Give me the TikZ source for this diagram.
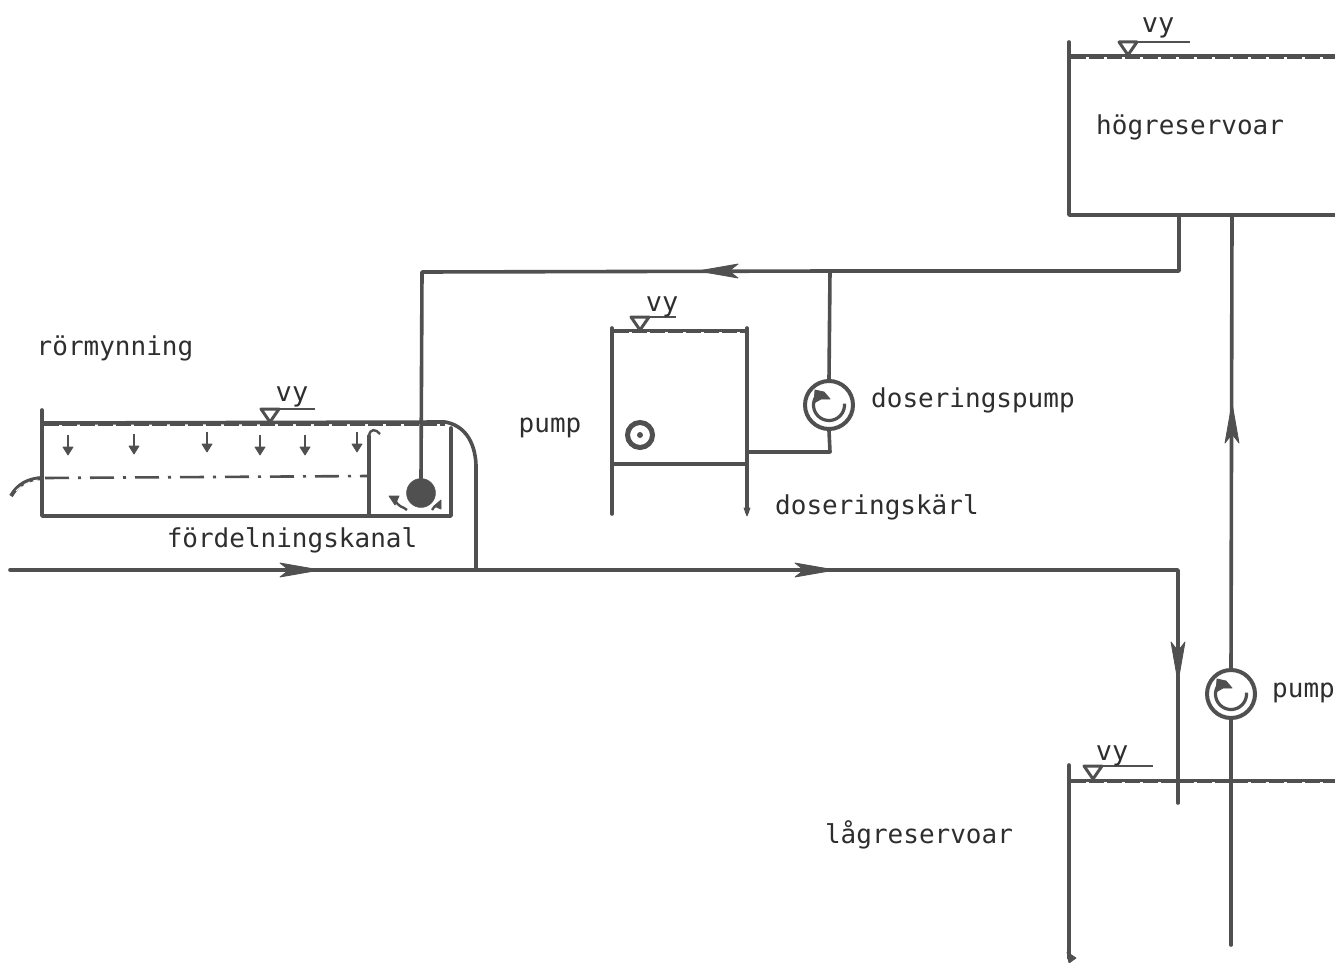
\documentclass[tikz,border=0pt]{standalone}
\usepackage{fontspec}
\setmainfont{DejaVu Sans Mono}
\usetikzlibrary{calc}
\definecolor{ink}{HTML}{505050}
\tikzset{
  x=1pt,y=-1pt,
  pipe/.style={draw=ink,line width=3.6pt,line cap=round,line join=round},
  water/.style={draw=ink,line width=3pt},
  water gaps/.style={draw=ink,line width=2.6pt,dash pattern=on 15pt off 3pt},
  label/.style={inner sep=0pt,text=black!82,font=\fontsize{26}{28}\selectfont},
  vylabel/.style={inner sep=0pt,text=black!82,font=\fontsize{27}{28}\selectfont},
  pumpbody/.style={circle,draw=ink,line width=4pt,minimum size=48pt,inner sep=0pt,fill=white},
  tipfill/.style={fill=ink,draw=ink,line width=.8pt,line join=round},
  pics/flow/.style={code={
    \path[tipfill] (0,0) -- (-40,-7) -- (-31,0) -- (-40,7) -- cycle;
  }},
  pics/smalldown/.style={code={
    \draw[draw=ink,line width=2.4pt] (0,-10) -- (0,4);
    \path[tipfill] (-5,2) -- (5,2) -- (0,10) -- cycle;
  }},
  pics/vymark/.style={code={
    \draw[draw=ink,line width=3pt,line join=round] (0,0) -- (-9,-13) -- (9,-13) -- cycle;
    \draw[draw=ink,line width=2.8pt] (0,-13) -- (#1,-13);
  }},
  pics/rotor/.style={code={
    \draw[draw=ink,line width=3.2pt] plot[smooth,domain=-5:235,samples=25] ({15.5*cos(\x)},{15.5*sin(\x)});
    \path[tipfill] (-15,-2) -- (-14,-15) -- (-5,-13) -- (1,-6) -- (-8,-6) -- cycle;
  }},
}
\begin{document}
\begin{tikzpicture}
\useasboundingbox (0,0) rectangle (1335,963);

% coordinates
\coordinate (hrTop) at (1069,42);
\coordinate (hrBL) at (1069,215);
\coordinate (hrBR) at (1335,215);
\coordinate (hrOut) at (1179,215);
\coordinate (hrCorner) at (1179,271);
\coordinate (dropTop) at (422,272);
\coordinate (branch) at (830,271);
\coordinate (feedEnd) at (748,452);
\coordinate (feedCorner) at (830,452);
\coordinate (mainStart) at (10,570);
\coordinate (mainCorner) at (1178,570);
\coordinate (mainEnd) at (1178,803);
\coordinate (overflowFoot) at (476,570);
\coordinate (riserFoot) at (1231,945);
\coordinate (riserTop) at (1232,215);

% pumps and ball
\node[pumpbody] (dospump) at (829,405) {};
\node[pumpbody] (mainpump) at (1231,694) {};
\node[circle,fill=ink,draw=ink,minimum size=29pt,inner sep=0pt] (ball) at (421,493) {};
\node[circle,draw=ink,line width=5pt,minimum size=25pt,inner sep=0pt] (smallpump) at (640,435) {};

% high reservoir
\draw[pipe] (hrTop) -- (hrBL) -- (hrBR);
\draw[water] (1069,56) -- (1335,56);
\draw[water gaps] (1071,57.5) -- (1335,57.5);
\pic at (1128,55) {vymark=62};
\node[vylabel] (vy1) at (1158,28) {vy};
\node[label,anchor=west] (hog) at (1096,127) {högreservoar};

% supply line
\draw[pipe] (hrOut) -- (hrCorner) -- (branch) -- (dropTop) -- (ball.north);
\draw[pipe] (branch) -- (dospump.north);
\draw[pipe] (dospump.south) -- (feedCorner) -- (feedEnd);
\pic[rotate=180] at (698,271) {flow};

% dosing vessel
\draw[pipe] (612,328) -- (612,514);
\draw[pipe] (747,328) -- (747,512);
\path[tipfill] (744,508) -- (750,508) -- (747,516) -- cycle;
\draw[pipe] (612,464) -- (747,464);
\draw[water] (612,330) -- (747,330);
\draw[water gaps] (614,331.5) -- (745,331.5);
\pic at (640,330) {vymark=36};
\node[vylabel] (vy2) at (662,307) {vy};
\path[fill=ink] (640,435) circle (3);

% canal
\draw[pipe] (42,410) -- (42,516) -- (451,516) -- (451,428);
\draw[pipe] (369,516) -- (369,436);
\draw[pipe] (44,423) -- (445,422) .. controls (463,425) and (475,440) .. (476,465) -- (overflowFoot);
\draw[water gaps] (44,424.5) -- (445,424.5);
\draw[draw=white,line width=.9pt,dash pattern=on 6pt off 5pt] (456,429) .. controls (466,435) and (471,445) .. (472,458);
\draw[draw=ink,line width=2.6pt,dash pattern=on 24pt off 9pt on 3pt off 9pt] (45,478) -- (369,476);
\foreach \x/\y in {68/445,134/444,207/442,260/445,305/445,357/442}
  \pic at (\x,\y) {smalldown};
% small arrow at the top of the divider
\draw[draw=ink,line width=2.4pt] (369,436) .. controls (370,428) and (376,429) .. (380,434);
% inlet
\draw[draw=ink,line width=4pt] (11,496) .. controls (18,484) and (28,479) .. (42,478);
\draw[draw=white,line width=1pt,dash pattern=on 7pt off 3pt] (16,491) .. controls (22,485) and (30,481) .. (38,480);
% swirl around the ball
\draw[draw=ink,line width=2.4pt] (395,499) .. controls (398,508) and (403,506) .. (407,510);
\path[tipfill] (389,496) -- (399,496) -- (395,505) -- cycle;
\draw[draw=ink,line width=2.4pt] (432,510) .. controls (435,505) and (437,505) .. (439,505);
\path[tipfill] (441,500) -- (441,509) -- (434,506) -- cycle;

% main line
\draw[pipe] (mainStart) -- (mainCorner) -- (mainEnd);
\pic at (320,570) {flow};
\pic at (835,570) {flow};
\pic[rotate=-90] at (1178,682) {flow};

% riser and main pump
\draw[pipe] (riserFoot) -- (mainpump.south);
\draw[pipe] (mainpump.north) -- (riserTop);
\pic[rotate=90] at (1232,403) {flow};

% low reservoir
\draw[pipe] (1069,765) -- (1069,958);
\path[tipfill] (1067,952) -- (1076,958) -- (1069,963) -- cycle;
\draw[water] (1069,780) -- (1335,780);
\draw[water gaps] (1071,781.5) -- (1335,781.5);
\pic at (1093,779) {vymark=60};
\node[vylabel] (vy3) at (1112,756) {vy};
\node[label] (lag) at (919,835) {lågreservoar};

% pump rotors
\pic at (dospump) {rotor};
\pic at (mainpump) {rotor};

% canal labels
\pic at (270,422) {vymark=45};
\node[vylabel] (vy4) at (292,397) {vy};
\node[label] (rm) at (115,348) {rörmynning};
\node[label] (fk) at (292,540) {fördelningskanal};
\node[label] (p1) at (550,428) {pump};
\node[label,anchor=west] (dp) at (871,400) {doseringspump};
\node[label,anchor=west] (dk) at (775,507) {doseringskärl};
\node[label,anchor=west] (p2) at (1272,693) {pump};
\end{tikzpicture}
\end{document}
